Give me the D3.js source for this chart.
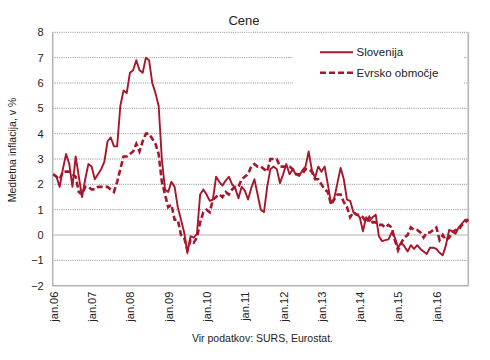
<!DOCTYPE html>
<html>
<head>
<meta charset="utf-8">
<script src="https://cdn.jsdelivr.net/npm/d3@7"></script>
<style>
  html, body { margin: 0; padding: 0; background: #fff; }
  svg { display: block; }
  text { font-family: "Liberation Sans", Arial, sans-serif; fill: #222; }
</style>
</head>
<body>
<svg id="chart" width="490" height="360"></svg>
<script>
// ---- Data (monthly, jan.2006 – nov.2016) ----
const title = "Cene";
const yAxisTitle = "Medletna inflacija, v %";
const source = "Vir podatkov: SURS, Eurostat.";
const seriesNames = ["Slovenija", "Evrsko območje"];
const xTickLabels = ["jan.06","jan.07","jan.08","jan.09","jan.10","jan.11","jan.12","jan.13","jan.14","jan.15","jan.16"];
const yTicks = [-2, -1, 0, 1, 2, 3, 4, 5, 6, 7, 8];

const slovenija = [
  2.4, 2.3, 1.9, 2.6, 3.2, 2.8, 1.9, 3.1, 2.3, 1.5, 2.2, 2.8,
  2.7, 2.2, 2.4, 2.6, 2.9, 3.7, 3.85, 3.5, 3.5, 5.1, 5.7, 5.6,
  6.4, 6.5, 6.9, 6.5, 6.4, 7.0, 6.9, 6.0, 5.6, 5.1, 3.0, 1.8,
  1.7, 2.1, 1.9, 1.1, 0.6, 0.1, -0.7, -0.05, -0.1, 0.05, 1.6, 1.8,
  1.6, 1.35, 1.4, 2.3, 2.1, 1.95, 2.15, 2.3, 2.0, 1.85, 1.45, 1.9,
  1.75, 1.4, 1.85, 2.2, 1.6, 1.0, 0.9, 1.9, 2.6, 2.7, 2.6, 2.05,
  2.4, 2.8, 2.4, 2.6, 2.4, 2.33, 2.55, 2.7, 3.3, 2.55, 2.27, 2.7,
  2.5, 2.7, 2.0, 1.25, 1.45, 2.05, 2.65, 2.2, 1.4, 1.35, 0.9, 0.82,
  0.7, 0.15, 0.7, 0.55, 0.7, 0.8, -0.05, -0.24, -0.2, -0.17, 0.1, -0.1,
  -0.5, -0.3, -0.45, -0.65, -0.4, -0.55, -0.4, -0.55, -0.65, -0.75, -0.5, -0.5,
  -0.55, -0.7, -0.8, -0.4, 0.2, 0.15, 0.05, 0.3, 0.45, 0.6, 0.6
];

const evrskoObmocje = [
  2.4, 2.3, 2.2, 2.5, 2.5, 2.5, 2.4, 2.3, 1.7, 1.6, 1.9, 1.9,
  1.8, 1.8, 1.9, 1.9, 1.9, 1.9, 1.8, 1.7, 2.1, 2.6, 3.1, 3.1,
  3.2, 3.3, 3.6, 3.3, 3.7, 4.0, 4.0, 3.8, 3.6, 3.2, 2.1, 1.6,
  1.1, 1.2, 0.6, 0.6, 0.0, -0.1, -0.6, -0.2, -0.3, -0.1, 0.5, 0.9,
  1.0, 0.9, 1.4, 1.5, 1.6, 1.5, 1.7, 1.6, 1.8, 1.9, 1.9, 2.2,
  2.3, 2.4, 2.7, 2.8, 2.7, 2.7, 2.6, 2.5, 3.0, 3.0, 3.0, 2.7,
  2.7, 2.7, 2.7, 2.6, 2.4, 2.4, 2.4, 2.6, 2.6, 2.5, 2.2, 2.2,
  2.0, 1.8, 1.7, 1.2, 1.4, 1.6, 1.6, 1.3, 1.1, 0.7, 0.9, 0.8,
  0.8, 0.7, 0.5, 0.7, 0.5, 0.5, 0.4, 0.4, 0.3, 0.4, 0.3, -0.2,
  -0.6, -0.3, -0.1, 0.0, 0.3, 0.2, 0.2, 0.1, -0.1, 0.1, 0.1, 0.2,
  0.3, -0.2, 0.0, -0.2, -0.1, 0.1, 0.2, 0.2, 0.4, 0.5, 0.6
];

// ---- Layout ----
const color = "#a6172d";
const svg = d3.select("#chart");
const pLeft = 52.7, pRight = 468.3, pTop = 32.3, pBottom = 285.7;

const x = d3.scaleLinear().domain([0, slovenija.length - 1]).range([pLeft + 0.6, pRight]);
const y = d3.scaleLinear().domain([-2, 8]).range([pBottom, pTop]);

// Gridlines (dotted), zero line solid
svg.append("g").selectAll("line")
  .data(yTicks.filter(v => v !== -2 && v !== 0))
  .join("line")
  .attr("x1", pLeft).attr("x2", pRight)
  .attr("y1", d => y(d)).attr("y2", d => y(d))
  .attr("stroke", "#8c8c8c").attr("stroke-width", 1)
  .attr("stroke-dasharray", "1,1.2");

svg.append("line")
  .attr("x1", pLeft).attr("x2", pRight)
  .attr("y1", y(0)).attr("y2", y(0))
  .attr("stroke", "#b4b4b4").attr("stroke-width", 1.2);

// Frame: left, right, bottom
svg.append("path")
  .attr("d", `M${pLeft},${pTop} V${pBottom} H${pRight} V${pTop}`)
  .attr("fill", "none").attr("stroke", "#b4b4b4").attr("stroke-width", 1.5);

// Y axis labels
const yAxis = d3.axisLeft(y).tickValues(yTicks).tickSize(0).tickPadding(9).tickFormat(d3.format("d"));
const gy = svg.append("g").attr("transform", `translate(${pLeft},0)`).call(yAxis);
gy.select(".domain").remove();
gy.selectAll("text").attr("font-size", 11).attr("font-family", "Liberation Sans, Arial, sans-serif").attr("fill", "#222");

// X axis labels (rotated)
const xTickVals = xTickLabels.map((_, i) => i * 12);
const xAxis = d3.axisBottom(x).tickValues(xTickVals).tickSize(0).tickFormat((d, i) => xTickLabels[i]);
const gx = svg.append("g").attr("transform", `translate(0,${pBottom})`).call(xAxis);
gx.select(".domain").remove();
gx.selectAll("text")
  .attr("font-size", 11)
  .attr("font-family", "Liberation Sans, Arial, sans-serif")
  .attr("fill", "#222")
  .attr("text-anchor", "end")
  .attr("dy", "0.35em")
  .attr("transform", "translate(0,6) rotate(-90)")
  .attr("x", 0).attr("y", 0);

// Legend background (covers gridlines)
svg.append("rect").attr("x", 292.7).attr("y", 40).attr("width", 170.6).attr("height", 46).attr("fill", "#fff");

// Lines
const line = d3.line().x((d, i) => x(i)).y(d => y(d));
svg.append("path").datum(evrskoObmocje).attr("d", line)
  .attr("fill", "none").attr("stroke", color).attr("stroke-width", 2.6)
  .attr("stroke-dasharray", "6,3");
svg.append("path").datum(slovenija).attr("d", line)
  .attr("fill", "none").attr("stroke", color).attr("stroke-width", 1.9)
  .attr("stroke-linejoin", "round");

// Legend
const legend = svg.append("g");
const legY = [52.3, 72.7];
seriesNames.forEach((name, i) => {
  legend.append("line")
    .attr("x1", 320).attr("x2", 353).attr("y1", legY[i]).attr("y2", legY[i])
    .attr("stroke", color).attr("stroke-width", i === 0 ? 2 : 2.6)
    .attr("stroke-dasharray", i === 0 ? null : "6,3");
  legend.append("text")
    .attr("x", 356.5).attr("y", legY[i] + 4)
    .attr("font-size", 11.5)
    .text(name);
});

// Title
svg.append("text").attr("x", 244).attr("y", 25).attr("text-anchor", "middle")
  .attr("font-size", 13).text(title);

// Y axis title
svg.append("text")
  .attr("transform", `translate(16,150) rotate(-90)`)
  .attr("text-anchor", "middle").attr("font-size", 10.5)
  .text(yAxisTitle);

// Source
svg.append("text").attr("x", 262.5).attr("y", 342).attr("text-anchor", "middle")
  .attr("font-size", 10.5).text(source);
</script>
</body>
</html>
